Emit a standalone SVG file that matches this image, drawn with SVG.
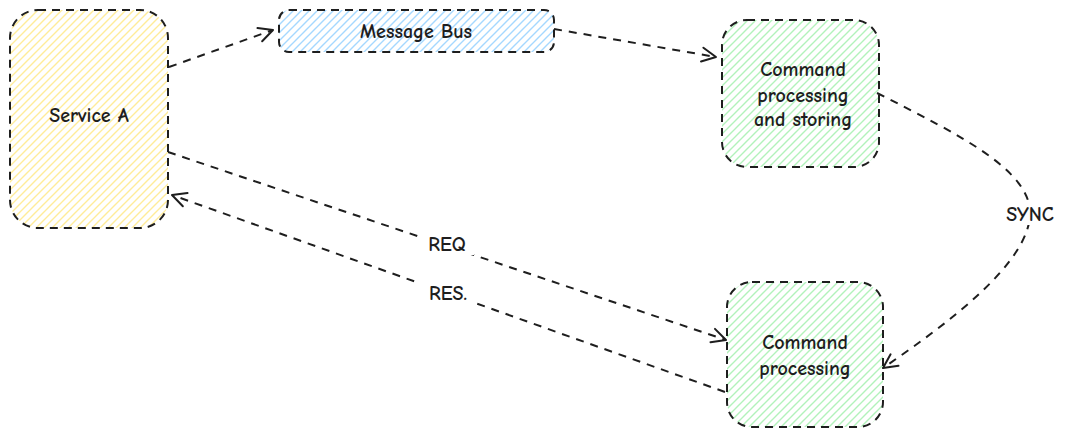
<svg xmlns="http://www.w3.org/2000/svg" width="1065" height="439" viewBox="0 0 1065 439">
<style>
.box{stroke:#1e1e1e;stroke-width:2;stroke-dasharray:8 6;}
.conn{fill:none;stroke:#1e1e1e;stroke-width:2;stroke-dasharray:8 7;}
.t{font-family:"Comic Neue","Liberation Sans",sans-serif;font-size:20px;font-weight:700;fill:#1e1e1e;text-anchor:middle;dominant-baseline:central;}
.lbl{fill:#fff;}
</style>
<defs>
<pattern id="hy" width="8" height="8" patternUnits="userSpaceOnUse"><path d="M0,8 L8,0 M-1,1 L1,-1 M7,9 L9,7" stroke="#ffec99" stroke-width="1.4"/></pattern>
<pattern id="hb" width="8" height="8" patternUnits="userSpaceOnUse"><path d="M0,8 L8,0 M-1,1 L1,-1 M7,9 L9,7" stroke="#a5d8ff" stroke-width="1.4"/></pattern>
<pattern id="hg" width="8" height="8" patternUnits="userSpaceOnUse"><path d="M0,8 L8,0 M-1,1 L1,-1 M7,9 L9,7" stroke="#b2f2bb" stroke-width="1.4"/></pattern>
<marker id="ah" viewBox="0 0 20 20" refX="18" refY="10" markerWidth="20" markerHeight="20" markerUnits="userSpaceOnUse" orient="auto"><path d="M4,3 L18,10 L4,17" fill="none" stroke="#1e1e1e" stroke-width="2" stroke-linecap="round" stroke-linejoin="round"/></marker>
</defs>
<g id="connectors">
<path class="conn" d="M169,67 L273,30" marker-end="url(#ah)"/>
<path class="conn" d="M554,29 L716,57" marker-end="url(#ah)"/>
<path class="conn" d="M168,152 L726,340" marker-end="url(#ah)"/>
<path class="conn" d="M725,392 L172,195" marker-end="url(#ah)"/>
<path class="conn" d="M877,93 C960,135 1030,170 1030,213 C1030,262 950,322 883,368" marker-end="url(#ah)"/>
<rect class="lbl" x="420" y="233" width="54" height="22"/>
<text class="t" x="447" y="244" font-size="18">REQ</text>
<rect class="lbl" x="420" y="282" width="56" height="22"/>
<text class="t" x="448" y="293" font-size="18">RES.</text>
<rect class="lbl" x="1002" y="203" width="56" height="22"/>
<text class="t" x="1030" y="214" font-size="18">SYNC</text>
</g>
<g id="service-a">
<rect class="box" x="10" y="10" width="158" height="218" rx="28" fill="url(#hy)"/>
<text class="t" x="89" y="115">Service A</text>
</g>
<g id="message-bus">
<rect class="box" x="279" y="10" width="275" height="42" rx="10" fill="url(#hb)"/>
<text class="t" x="416" y="31">Message Bus</text>
</g>
<g id="cmd-storing">
<rect class="box" x="722" y="20" width="157" height="147" rx="25" fill="url(#hg)"/>
<text class="t" x="803" y="69">Command</text>
<text class="t" x="803" y="95">processing</text>
<text class="t" x="803" y="119">and storing</text>
</g>
<g id="cmd-processing">
<rect class="box" x="727" y="282" width="156" height="145" rx="25" fill="url(#hg)"/>
<text class="t" x="805" y="342">Command</text>
<text class="t" x="805" y="368">processing</text>
</g>
</svg>
